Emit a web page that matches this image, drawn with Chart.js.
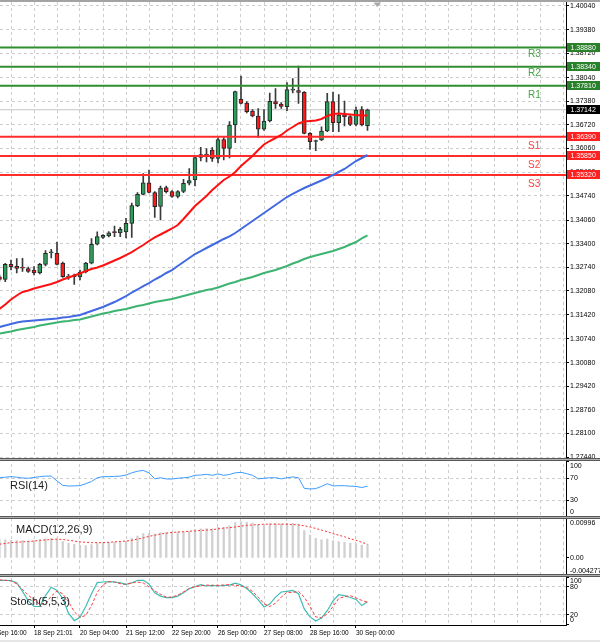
<!DOCTYPE html>
<html><head><meta charset="utf-8">
<script src="https://cdn.jsdelivr.net/npm/chart.js@4.4.1/dist/chart.umd.min.js"></script>
<style>html,body{margin:0;padding:0;background:#fff;}canvas{display:block;}</style>
</head><body>
<canvas id="c" width="600" height="642"></canvas>
<script>
// ---------- DATA ----------
const opens  = [1.32478,1.32406,1.32825,1.32769,1.32730,1.32707,1.32665,1.32582,1.32819,1.33148,1.33132,1.32861,1.32466,1.32478,1.32470,1.32610,1.32853,1.33386,1.33579,1.33615,1.33716,1.33699,1.33727,1.33970,1.34453,1.34775,1.35104,1.34825,1.34439,1.34970,1.34859,1.34719,1.34859,1.35088,1.35180,1.35808,1.35880,1.36018,1.35780,1.36311,1.36065,1.36716,1.37434,1.37331,1.37107,1.36967,1.36596,1.36827,1.37367,1.37303,1.37227,1.37690,1.37680,1.37629,1.36484,1.36255,1.36297,1.36548,1.37367,1.36780,1.36995,1.36948,1.36735,1.37149,1.36696];
const highs  = [1.32526,1.32853,1.32945,1.32987,1.32992,1.32749,1.32758,1.32853,1.33210,1.33244,1.33444,1.32889,1.32545,1.32554,1.32665,1.32881,1.33540,1.33735,1.33657,1.33741,1.33895,1.33858,1.34110,1.34537,1.34825,1.35361,1.35459,1.34853,1.35012,1.35012,1.34886,1.34886,1.35199,1.35501,1.35822,1.36093,1.36060,1.36087,1.36367,1.36367,1.36808,1.37666,1.38085,1.37372,1.37149,1.37177,1.37149,1.37610,1.37736,1.37339,1.37898,1.38015,1.38364,1.37646,1.36501,1.36297,1.36668,1.37601,1.37638,1.37568,1.37386,1.36981,1.37219,1.37227,1.37163];
const lows   = [1.32358,1.32339,1.32665,1.32582,1.32629,1.32595,1.32526,1.32554,1.32777,1.33001,1.32805,1.32456,1.32406,1.32260,1.32386,1.32582,1.32833,1.33364,1.33551,1.33587,1.33596,1.33596,1.33559,1.33573,1.34434,1.34761,1.34817,1.34132,1.34062,1.34817,1.34691,1.34677,1.34825,1.35040,1.35012,1.35710,1.35682,1.35696,1.35654,1.35738,1.35794,1.36222,1.37303,1.37051,1.36939,1.36372,1.36562,1.36799,1.37177,1.37182,1.37115,1.37610,1.37317,1.36465,1.36032,1.35998,1.36277,1.36529,1.36529,1.36529,1.36688,1.36696,1.36688,1.36688,1.36562];
const closes = [1.32406,1.32825,1.32758,1.32713,1.32720,1.32629,1.32582,1.32825,1.33132,1.33156,1.32825,1.32478,1.32474,1.32526,1.32610,1.32861,1.33386,1.33596,1.33635,1.33707,1.33710,1.33802,1.33970,1.34467,1.34780,1.35104,1.34831,1.34434,1.34956,1.34853,1.34719,1.34859,1.35088,1.35166,1.35803,1.35892,1.35876,1.35780,1.36311,1.36065,1.36716,1.37646,1.37322,1.37087,1.36967,1.36596,1.36827,1.37378,1.37303,1.37233,1.37708,1.37698,1.37629,1.36484,1.36249,1.36283,1.36548,1.37367,1.36780,1.36995,1.36948,1.36735,1.37135,1.36716,1.37142];

const maRed   = [1.31576,1.31701,1.31841,1.31953,1.32051,1.32093,1.32149,1.32191,1.32233,1.32275,1.32331,1.32400,1.32456,1.32512,1.32568,1.32637,1.32693,1.32735,1.32791,1.32861,1.32931,1.33001,1.33084,1.33168,1.33266,1.33364,1.33476,1.33574,1.33657,1.33741,1.33825,1.33922,1.34090,1.34272,1.34454,1.34593,1.34733,1.34900,1.35040,1.35180,1.35278,1.35403,1.35571,1.35710,1.35850,1.36018,1.36172,1.36269,1.36353,1.36437,1.36562,1.36660,1.36758,1.36814,1.36828,1.36842,1.36884,1.36968,1.37024,1.37038,1.37024,1.37010,1.36996,1.36982,1.36982];
const maBlue  = [1.31073,1.31115,1.31157,1.31199,1.31227,1.31241,1.31255,1.31269,1.31283,1.31297,1.31311,1.31339,1.31353,1.31381,1.31409,1.31464,1.31520,1.31576,1.31632,1.31701,1.31771,1.31855,1.31939,1.32037,1.32121,1.32218,1.32302,1.32400,1.32484,1.32582,1.32665,1.32777,1.32889,1.33001,1.33112,1.33196,1.33280,1.33364,1.33448,1.33532,1.33602,1.33699,1.33811,1.33922,1.34034,1.34146,1.34258,1.34370,1.34481,1.34593,1.34705,1.34789,1.34873,1.34956,1.35026,1.35096,1.35166,1.35236,1.35320,1.35403,1.35487,1.35599,1.35710,1.35794,1.35878];
const maGreen = [1.30891,1.30919,1.30947,1.30989,1.31017,1.31045,1.31073,1.31115,1.31143,1.31171,1.31199,1.31227,1.31241,1.31269,1.31283,1.31325,1.31367,1.31409,1.31450,1.31478,1.31520,1.31548,1.31576,1.31618,1.31660,1.31688,1.31730,1.31771,1.31799,1.31827,1.31855,1.31897,1.31939,1.31981,1.32023,1.32065,1.32107,1.32135,1.32177,1.32233,1.32288,1.32330,1.32386,1.32428,1.32470,1.32526,1.32582,1.32623,1.32665,1.32721,1.32777,1.32847,1.32903,1.32973,1.33029,1.33071,1.33112,1.33154,1.33196,1.33252,1.33308,1.33378,1.33448,1.33546,1.33630];

const rsi = [71,72,73,72,70.5,70,71.5,73,74,74,65,57,55.8,56,56.5,60,64,71,73,73,73.5,74,76,80,83,84.5,80,69,71,68.7,68.7,70,71,72,75.5,76,77.3,75.5,78,75.5,77,80,81,78.5,75.5,69,70,71,71,69,71,72.5,71,51.5,50.3,51,55,60,56,56.4,56.4,55.5,55,53,55.5];

const macdMain   = [0.0046,0.0046,0.0045,0.0044,0.0044,0.0043,0.0044,0.0046,0.0049,0.0050,0.0048,0.0042,0.0038,0.0035,0.0032,0.0031,0.0034,0.0037,0.0039,0.0040,0.0040,0.0041,0.0043,0.0050,0.0056,0.0062,0.0063,0.0061,0.0064,0.0065,0.0066,0.0066,0.0067,0.0068,0.0072,0.0074,0.0075,0.0074,0.0078,0.0078,0.0082,0.0090,0.0092,0.0091,0.0089,0.0085,0.0084,0.0087,0.0088,0.0087,0.0088,0.0088,0.0086,0.0070,0.0058,0.0050,0.0046,0.0048,0.0044,0.0042,0.0040,0.0037,0.0036,0.0033,0.0034];
const macdSignal = [0.0035,0.0037,0.0039,0.0040,0.0041,0.0042,0.0043,0.0045,0.0046,0.0047,0.0048,0.0047,0.0045,0.0043,0.0041,0.0040,0.0039,0.0039,0.0039,0.0040,0.0041,0.0042,0.0043,0.0045,0.0048,0.0051,0.0055,0.0058,0.0061,0.0063,0.0065,0.0066,0.0067,0.0068,0.0069,0.0070,0.0071,0.0072,0.0074,0.0076,0.0077,0.0079,0.0081,0.0083,0.0084,0.0085,0.0086,0.0086,0.0086,0.0086,0.0086,0.0085,0.0084,0.0082,0.0079,0.0075,0.0071,0.0067,0.0062,0.0058,0.0054,0.0049,0.0045,0.0040,0.0035];

const stochMain   = [93.6,93.6,93,88.5,70,50,38,38.4,61,79,72,55,24,8,15,38,65,88.6,90,91,90,88,85,88,93.6,93.6,86,67,60,56.8,56.8,60,67,76,80,84.4,81.5,82.9,81.5,82.9,83.5,87.5,84,76,65,52,37,43,58,68.8,70,72,65,33,16,7,13.6,29,50,63,61,57,53,40,48];
const stochSignal = [94.5,93.6,92.5,86,74,62,52,43,44,60,71,65,48,27,15,19,40,68,84,91,90,86.5,85,88,90,88,79.5,71,64,58,58,62,69,76,80,82,83.5,82.9,82.9,83.5,84.5,83,81.5,78,70,58,44,38,45,58,68,68,70,58,38,16,14,22,38,55,59,61,56,51,47];

const levelNames  = ['R3','R2','R1','S1','S2','S3'];
const levelValues = [1.38880,1.38340,1.37810,1.36390,1.35850,1.35320];
const bidPrice = 1.37142;

const mainTickLabels  = ['1.40040','1.39380','1.38720','1.38040','1.37380','1.36720','1.36060','1.35400','1.34740','1.34060','1.33400','1.32740','1.32080','1.31420','1.30740','1.30080','1.29420','1.28760','1.28100','1.27440'];
const rsiTicks   = [100,70,30,0];
const macdTicks  = ['0.00996','0.00','-0.004277'];
const stochTicks = [100,80,20,0];
const xLabelBars  = [-2,6,14,22,30,38,46,54,62];
const xLabelTexts = ['15 Sep 16:00','18 Sep 21:01','20 Sep 04:00','21 Sep 12:00','22 Sep 20:00','26 Sep 00:00','27 Sep 08:00','28 Sep 16:00','30 Sep 00:00'];

// ---------- STYLE / LAYOUT ----------
const FONT = 'Liberation Sans, Arial, sans-serif';
const BULL = '#2f9a5c', BEAR = '#ff1a1a', OUTLINE = '#262626', WICK = '#3a3a3a';
const GRID = '#cdcdcd';
const levelStyle = [
  {line:'#2f8f2f', box:'#2b812b', text:'#45a545', dy:6.3},
  {line:'#2f8f2f', box:'#2b812b', text:'#45a545', dy:6.3},
  {line:'#2f8f2f', box:'#2b812b', text:'#45a545', dy:9.8},
  {line:'#ff2c2c', box:'#ff2020', text:'#ff4040', dy:10},
  {line:'#ff2c2c', box:'#ff2020', text:'#ff4040', dy:9.7},
  {line:'#ff2c2c', box:'#ff2020', text:'#ff4040', dy:9}
];
const X_MIN = 0.5/5.75, X_MAX = 566.5/5.75;

const gridBars = [];
for (let b = -2; b <= 98; b += 4) gridBars.push(b);

const pts = arr => arr.map((v, i) => ({x: i, y: v}));
const hline = v => [{x: X_MIN, y: v}, {x: X_MAX, y: v}];

function yAxis(o) {
  return Object.assign({
    type: 'linear', position: 'right', stack: 'panes', offset: false,
    border: {display: true, color: '#000', width: 1, dash: [3, 3]},
    grid: {color: GRID, lineWidth: 1, drawTicks: true, tickLength: 3, tickColor: '#000', tickBorderDash: []},
    afterFit(s) { s.width = 34; s.paddingTop = 0; s.paddingBottom = 0; s.paddingLeft = 0; s.paddingRight = 0; }
  }, o);
}
const tickFont = {family: FONT, size: 7};

const datasets = [
  {type:'line', data: hline(bidPrice), yAxisID:'y', borderColor:'#c6c6c6', borderWidth:1, pointRadius:0, order:30},
  {type:'bar', data: closes.map((c,i)=>({x:i, y:[lows[i], highs[i]]})), yAxisID:'y', backgroundColor: WICK, barThickness:1, grouped:false, order:25},
  {type:'bar', data: closes.map((c,i)=>({x:i, y:[opens[i], c]})), yAxisID:'y',
    backgroundColor: ctx => closes[ctx.dataIndex] >= opens[ctx.dataIndex] ? BULL : BEAR,
    borderColor: OUTLINE, borderWidth: 1, borderSkipped: false, barThickness: 4, minBarLength: 1, grouped:false, order:24},
];
levelValues.forEach((v, k) => datasets.push({type:'line', data: hline(v), yAxisID:'y', borderColor: levelStyle[k].line, borderWidth:2, pointRadius:0, order:15}));
datasets.push(
  {type:'line', data: pts(maGreen), yAxisID:'y', borderColor:'#3cb371', borderWidth:2, pointRadius:0, order:6},
  {type:'line', data: pts(maBlue),  yAxisID:'y', borderColor:'#4169e1', borderWidth:2, pointRadius:0, order:5},
  {type:'line', data: pts(maRed),   yAxisID:'y', borderColor:'#ff1010', borderWidth:2, pointRadius:0, order:4},
  {type:'line', data: pts(rsi), yAxisID:'yRsi', borderColor:'#3d9bff', borderWidth:1, pointRadius:0, order:3},
  {type:'bar', data: pts(macdMain), yAxisID:'yMacd', backgroundColor:'#d0d0d0', barThickness:1.6, grouped:false, order:8},
  {type:'line', data: pts(macdSignal), yAxisID:'yMacd', borderColor:'#ff3030', borderWidth:1, borderDash:[2,2], pointRadius:0, order:2},
  {type:'line', data: pts(stochMain), yAxisID:'yStoch', borderColor:'#3fbdb5', borderWidth:1.2, pointRadius:0, order:2},
  {type:'line', data: pts(stochSignal), yAxisID:'yStoch', borderColor:'#ff3a3a', borderWidth:1, borderDash:[3,2], pointRadius:0, order:1}
);

const overlay = {
  id: 'overlay',
  afterDraw(chart) {
    const {ctx, scales} = chart;
    const W = chart.width;
    const ys = scales.y;
    ctx.save();
    ctx.fillStyle = '#a3a3a3'; ctx.fillRect(0, 0, W, 2);
    ctx.fillStyle = '#e6e6e6'; ctx.fillRect(0, 640, W, 2);
    // chart-shift marker
    ctx.fillStyle = '#a8a8a8';
    ctx.beginPath(); ctx.moveTo(373.5, 2.5); ctx.lineTo(381, 2.5); ctx.lineTo(377.2, 7); ctx.closePath(); ctx.fill();
    // separators between panes
    [scales.yRsi.top, scales.yMacd.top, scales.yStoch.top].forEach(t => {
      const s = Math.floor(t) - 1;
      ctx.fillStyle = '#595959'; ctx.fillRect(0, s, W, 3);
      ctx.fillStyle = '#b0b0b0'; ctx.fillRect(0, s + 1, W, 1);
    });
    // level names and price boxes
    ctx.textBaseline = 'middle';
    const boxes = levelValues.map((v, k) => ({v, color: levelStyle[k].box}));
    boxes.push({v: bidPrice, color: '#000'});
    levelValues.forEach((v, k) => {
      const py = ys.getPixelForValue(v);
      ctx.font = '10px ' + FONT; ctx.fillStyle = levelStyle[k].text; ctx.textAlign = 'left';
      ctx.fillText(levelNames[k], 528, py + levelStyle[k].dy);
    });
    boxes.forEach(b => {
      const py = ys.getPixelForValue(b.v);
      ctx.fillStyle = b.color; ctx.fillRect(567, Math.round(py) - 5, 33, 9);
      ctx.fillStyle = '#fff'; ctx.font = '7px ' + FONT; ctx.textAlign = 'left';
      ctx.fillText(b.v.toFixed(5), 570.5, Math.round(py) - 0.3);
    });
    // pane titles
    ctx.fillStyle = '#1c1c1c'; ctx.font = '11px ' + FONT;
    ctx.fillText('RSI(14)', 10, scales.yRsi.top + 26.3);
    ctx.fillText('MACD(12,26,9)', 16, scales.yMacd.top + 13.2);
    ctx.fillText('Stoch(5,5,3)', 10, scales.yStoch.top + 26.5);
    ctx.restore();
  }
};

new Chart(document.getElementById('c'), {
  type: 'bar',
  data: {datasets},
  plugins: [overlay],
  options: {
    responsive: false, animation: false, devicePixelRatio: 1, events: [],
    layout: {padding: {top: 2, left: 0, right: 0, bottom: 0}},
    plugins: {legend: {display: false}, tooltip: {enabled: false}},
    scales: {
      x: {
        type: 'linear', min: X_MIN, max: X_MAX, offset: false,
        border: {display: true, color: '#000', width: 1, dash: [3, 3]},
        grid: {offset: false, color: GRID, lineWidth: 1, drawTicks: true, tickLength: 3, tickBorderDash: [],
          tickColor: c => (c.tick && xLabelBars.indexOf(Math.round(c.tick.value)) >= 0) ? '#000' : 'rgba(0,0,0,0)'},
        ticks: {autoSkip: false, maxRotation: 0, minRotation: 0, align: 'start', padding: 1.5,
          font: {family: FONT, size: 6.5}, color: '#000',
          callback: v => { const k = xLabelBars.indexOf(Math.round(v)); return k >= 0 ? xLabelTexts[k] : ''; }},
        afterBuildTicks: s => { s.ticks = gridBars.map(v => ({value: v})); },
        afterFit: s => { s.height = 17; s.paddingLeft = 0; s.paddingRight = 0; }
      },
      y: yAxis({
        min: 1.273724, max: 1.401517, stackWeight: 457.5,
        ticks: {font: tickFont, color: '#000', padding: 1, autoSkip: false, callback: (v, i) => mainTickLabels[i]},
        afterBuildTicks: s => { s.ticks = mainTickLabels.map(t => ({value: parseFloat(t)})); }
      }),
      yRsi: yAxis({
        min: -1.29, max: 104.6, stackWeight: 57.5,
        grid: {color: c => (c.tick && (c.tick.value === 70 || c.tick.value === 30)) ? GRID : 'rgba(0,0,0,0)', lineWidth: 1, drawTicks: true, tickLength: 3, tickColor: '#000', tickBorderDash: []},
        ticks: {font: tickFont, color: '#000', padding: 1, autoSkip: false,
          callback: v => v === 100 ? ['', '100'] : (v === 0 ? ['0', ''] : String(v))},
        afterBuildTicks: s => { s.ticks = rsiTicks.map(v => ({value: v})); }
      }),
      yMacd: yAxis({
        min: -0.00445, max: 0.010425, stackWeight: 58.5,
        grid: {color: 'rgba(0,0,0,0)', lineWidth: 1, drawTicks: true, tickLength: 3, tickColor: '#000', tickBorderDash: []},
        ticks: {font: tickFont, color: '#000', padding: 1, autoSkip: false,
          callback: (v, i) => i === 0 ? ['', macdTicks[0]] : (i === macdTicks.length - 1 ? [macdTicks[i], ''] : macdTicks[i])},
        afterBuildTicks: s => { s.ticks = macdTicks.map(t => ({value: parseFloat(t)})); }
      }),
      yStoch: yAxis({
        min: -1.27, max: 103.8, stackWeight: 49.5,
        grid: {color: c => (c.tick && (c.tick.value === 80 || c.tick.value === 20)) ? GRID : 'rgba(0,0,0,0)', lineWidth: 1, drawTicks: true, tickLength: 3, tickColor: '#000', tickBorderDash: []},
        ticks: {font: tickFont, color: '#000', padding: 1, autoSkip: false,
          callback: v => v === 100 ? ['', '100'] : (v === 0 ? ['0', ''] : String(v))},
        afterBuildTicks: s => { s.ticks = stochTicks.map(v => ({value: v})); }
      })
    }
  }
});
</script>
</body></html>
